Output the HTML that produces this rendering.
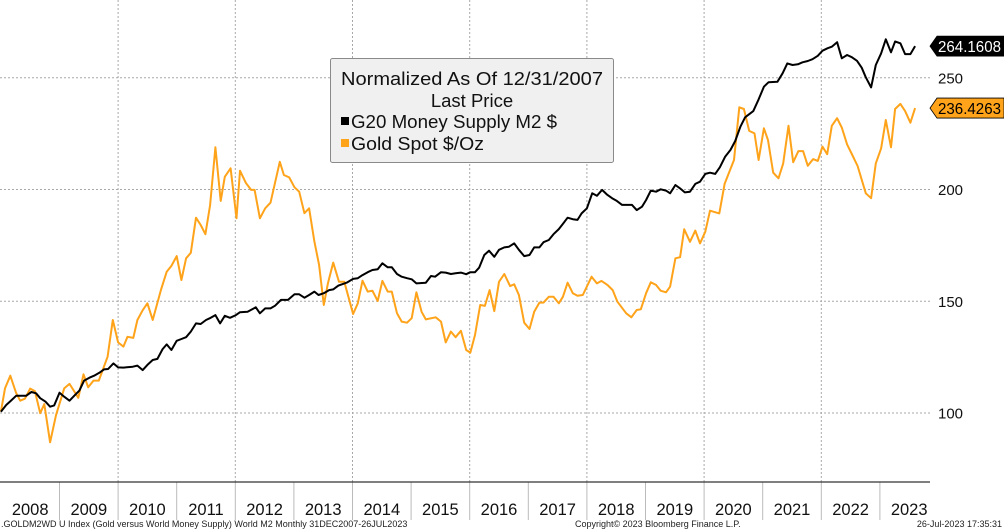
<!DOCTYPE html>
<html><head><meta charset="utf-8"><style>
html,body{margin:0;padding:0;background:#fff;width:1004px;height:531px;overflow:hidden}
svg{display:block;font-family:"Liberation Sans","DejaVu Sans",sans-serif}
</style></head><body>
<svg id="chart" width="1004" height="531" viewBox="0 0 1004 531" xmlns="http://www.w3.org/2000/svg">
<g id="grid"></g>
<g id="series"></g>
<g id="yaxis"></g>
<g id="xaxis"></g>
<g>
<rect x="330.5" y="58.5" width="283" height="104" rx="2" fill="#f0f0f0" stroke="#8a8a8a" stroke-width="1"/>
<text x="472" y="85" font-size="18.5" text-anchor="middle" fill="#111" textLength="262" lengthAdjust="spacingAndGlyphs">Normalized As Of 12/31/2007</text>
<text x="472" y="107" font-size="18.5" text-anchor="middle" fill="#111">Last Price</text>
<rect x="341" y="117" width="8" height="8" fill="#000"/>
<text x="351" y="128" font-size="18.5" fill="#111" textLength="206" lengthAdjust="spacingAndGlyphs">G20 Money Supply M2 $</text>
<rect x="341" y="139" width="8" height="8" fill="#ffa31a"/>
<text x="351" y="150" font-size="18.5" fill="#111" textLength="133" lengthAdjust="spacingAndGlyphs">Gold Spot $/Oz</text>
</g>
<text x="1" y="527" font-size="9" fill="#222">.GOLDM2WD U Index (Gold versus World Money Supply) World M2  Monthly 31DEC2007-26JUL2023</text>
<text x="575" y="527" font-size="9" fill="#222">Copyright© 2023 Bloomberg Finance L.P.</text>
<text x="1002" y="527" font-size="9" fill="#222" text-anchor="end">26-Jul-2023 17:35:31</text>
</svg>
<script>
// years since 31-Dec-2007
const goldT=[0,.07,.16,.26,.33,.41,.50,.58,.67,.74,.84,.94,1.08,1.17,1.32,1.41,1.49,1.58,1.67,1.82,1.91,2.00,2.09,2.16,2.26,2.33,2.42,2.50,2.59,2.73,2.83,2.91,3.00,3.08,3.16,3.24,3.33,3.41,3.49,3.57,3.66,3.75,3.82,3.92,4.02,4.08,4.18,4.27,4.33,4.42,4.51,4.60,4.76,4.83,4.92,5.01,5.09,5.18,5.26,5.35,5.43,5.51,5.58,5.67,5.77,5.86,6.01,6.09,6.17,6.26,6.34,6.43,6.51,6.60,6.67,6.76,6.84,6.93,7.01,7.09,7.18,7.25,7.42,7.51,7.59,7.68,7.76,7.85,7.94,8.01,8.09,8.18,8.26,8.34,8.42,8.50,8.59,8.69,8.76,8.84,8.93,9.02,9.10,9.19,9.26,9.35,9.43,9.52,9.59,9.67,9.76,9.84,9.93,10.08,10.17,10.25,10.35,10.44,10.52,10.67,10.76,10.85,10.92,11.01,11.09,11.18,11.26,11.35,11.42,11.51,11.59,11.66,11.76,11.85,11.93,12.02,12.10,12.26,12.35,12.51,12.60,12.68,12.77,12.86,12.93,13.02,13.09,13.18,13.27,13.35,13.44,13.52,13.61,13.69,13.77,13.86,13.94,14.02,14.10,14.18,14.27,14.35,14.44,14.52,14.62,14.76,14.85,14.93,15.02,15.10,15.19,15.26,15.35,15.43,15.52,15.60];
const goldV=[100.6,111,116.7,109,105.5,106.4,110.9,109.8,99.9,104,86.9,99,111,113,106.8,117.3,111.5,114.5,114.5,125.2,141.6,131.6,129.7,134.1,133.6,141.6,146,149.1,141.6,155,163.2,165.8,170.2,159.5,169.2,171.7,187.4,184.1,180,193,218.9,194.9,205.7,209.5,187.1,208.4,203,199.8,199.8,187.1,191.6,194.1,212.4,206.5,205.4,201,199,189.4,191.6,176.7,166.2,148.3,158,167.3,158.7,158.7,144.3,149.1,159.2,154.3,154.7,150.1,159.1,154.3,154.3,144.6,140.9,140.4,142.4,154,145.3,141.9,142.8,140.9,131.6,136.4,133.9,136.8,128.2,127,134.9,148.3,147.9,155,145.6,158.7,162.2,156.8,157.6,152.8,140.4,137.6,145.3,149.4,149.4,152,152,149.1,152,158.3,153.6,152.5,152.8,161,158,159.1,157.3,155,149.8,144.6,142.8,146.1,146.4,153.6,158.5,157.3,154.7,154,156.5,169.2,169.7,182.2,176.6,181.6,175.9,181.1,190.5,189.3,202.5,213.2,236.8,236,226.2,225.1,213.2,227.4,222.1,207.5,205,211.7,228.5,212.2,217.2,217.2,210.6,213.6,212.8,219.2,215.8,228.5,231.9,227.7,220.2,215.9,210.5,198.3,196.1,211.7,218.4,231.1,218.9,236,238.3,235.1,229.9,236.4263];
const m2T=[0,.09,.17,.26,.43,.52,.60,.67,.76,.84,.91,1.00,1.08,1.17,1.25,1.34,1.42,1.51,1.59,1.68,1.76,1.83,1.92,2.00,2.09,2.25,2.33,2.42,2.50,2.59,2.67,2.76,2.83,2.91,3.00,3.08,3.16,3.24,3.33,3.41,3.50,3.58,3.66,3.74,3.82,3.91,4.01,4.08,4.21,4.35,4.42,4.51,4.60,4.68,4.78,4.90,5.01,5.09,5.18,5.26,5.35,5.42,5.51,5.60,5.67,5.76,5.90,6.01,6.09,6.17,6.26,6.34,6.43,6.51,6.60,6.67,6.76,6.84,6.93,7.01,7.09,7.25,7.34,7.41,7.51,7.59,7.68,7.76,7.85,7.94,8.01,8.09,8.16,8.25,8.33,8.42,8.50,8.59,8.67,8.76,8.84,8.93,9.02,9.10,9.19,9.26,9.35,9.43,9.52,9.59,9.67,9.76,9.84,9.91,10.00,10.09,10.17,10.26,10.34,10.43,10.51,10.60,10.68,10.77,10.85,10.94,11.01,11.09,11.18,11.26,11.35,11.42,11.51,11.59,11.67,11.76,11.85,11.93,12.02,12.10,12.19,12.27,12.36,12.45,12.53,12.62,12.70,12.84,12.93,13.02,13.10,13.25,13.34,13.42,13.51,13.60,13.68,13.77,13.85,13.94,14.02,14.11,14.18,14.27,14.35,14.44,14.52,14.61,14.69,14.76,14.85,14.93,15.02,15.10,15.19,15.26,15.35,15.43,15.52,15.60];
const m2V=[100.6,103.6,105.5,107.7,107.7,109.4,108.8,106.6,105.1,102.8,103.4,109.1,107.3,105.5,107.7,110,114.5,115.8,116.7,118,119.5,119.7,122.2,120.4,120.3,120.7,121.2,119.2,121.5,123.7,124.2,128.6,130.7,128.2,132.3,133.1,133.9,136.4,140.1,139.8,141.6,142.6,143.8,140.1,143.5,142.6,143.8,145.1,145.3,147.3,144.6,146.8,146.8,148,150.6,150.6,153.1,153.1,151.6,152.8,154.3,152.8,153.6,155,155.3,157,158.3,160,160.3,161.7,163,164,164.3,167,165.2,165.2,162.2,161,160.3,159.8,158,158.3,161.3,161,163,162.8,162.2,162.5,162.8,162.1,163,163,165,170.7,172.6,169.9,173,174.1,174.4,175.9,173,170.2,170.7,174.1,174.1,176.4,177.4,180,182.3,184.6,187.4,186.7,186.4,189.3,191.6,198.3,197.2,199.8,197.8,196.1,194.9,193.1,193.1,193.1,190.8,192.3,195.3,199.5,199,200.1,199.5,198.3,202,200.5,198.7,199,202.5,203.5,207,207.5,207,210,214.7,217.7,221.7,228.1,232.3,235.1,240.3,246,248,248.2,252,256.4,255.7,256,256.9,257.5,258.3,259.8,262.1,263.2,263.9,265.9,258.7,260.2,259.2,257.6,254.5,250.2,245.7,255.7,260.9,267.2,261.4,266.2,265.4,260.6,260.6,264.1608];
const yTicks=[100,150,200,250];
const years=[2008,2009,2010,2011,2012,2013,2014,2015,2016,2017,2018,2019,2020,2021,2022,2023];

const NS='http://www.w3.org/2000/svg';
const PLOT_L=0.9, YEAR_W=58.6, PLOT_R=930, AXIS_Y=482;
const xS=t=>PLOT_L+t*YEAR_W;
const yS=v=>413-(v-100)*2.235;
function mk(tag,attrs,parent){const e=document.createElementNS(NS,tag);for(const k in attrs)e.setAttribute(k,attrs[k]);parent.appendChild(e);return e;}
const grid=document.getElementById('grid'),series=document.getElementById('series'),yax=document.getElementById('yaxis'),xax=document.getElementById('xaxis');

yTicks.forEach(v=>{
  const l=mk('line',{x1:0,x2:PLOT_R,y1:yS(v),y2:yS(v),stroke:'#a8a8a8','stroke-width':1,'stroke-dasharray':'2,2'},grid);
  
  
  const t=mk('text',{x:938,y:yS(v)+5.5,'font-size':15,fill:'#111'},yax);
  t.textContent=v;
  
  
});
years.forEach((yr,i)=>{
  if(i>0){
    const s=mk('line',{x1:xS(i),x2:xS(i),y1:AXIS_Y,y2:520,stroke:'#bbb','stroke-width':1},xax);
    
    
    if(i%2===0){
      const g=mk('line',{x1:xS(i),x2:xS(i),y1:0,y2:AXIS_Y,stroke:'#a8a8a8','stroke-width':1,'stroke-dasharray':'2,2'},grid);
      
      
    }
  }
  const t=mk('text',{x:xS(i+0.5),y:515,'font-size':16.5,fill:'#111','text-anchor':'middle'},xax);
  t.textContent=yr;
  
  
});
const ax=mk('line',{x1:0,x2:PLOT_R,y1:AXIS_Y,y2:AXIS_Y,stroke:'#333','stroke-width':1.3},xax);



function line(T,V){return T.map((t,i)=>(i?'L':'M')+xS(t).toFixed(1)+','+yS(V[i]).toFixed(1)).join('');}
const gp=mk('path',{d:line(goldT,goldV),fill:'none',stroke:'#ffa31a','stroke-width':2,'stroke-linejoin':'round'},series);


const mp=mk('path',{d:line(m2T,m2V),fill:'none',stroke:'#000','stroke-width':2,'stroke-linejoin':'round'},series);



function tag(v,bg,fg,name){
  const y=yS(v);
  const p=mk('path',{d:`M930,${y} L937,${y-10} L1004,${y-10} L1004,${y+10} L937,${y+10} Z`,fill:bg,stroke:'#000','stroke-width':0.8},yax);
  
  
  const t=mk('text',{x:938,y:y+6,'font-size':16,fill:fg,textLength:63,lengthAdjust:'spacingAndGlyphs'},yax);
  t.textContent=v.toFixed(4);
  
  
}
tag(m2V[m2V.length-1],'#000','#fff','m2-last');
tag(goldV[goldV.length-1],'#ffa31a','#000','gold-last');
</script>
</body></html>
